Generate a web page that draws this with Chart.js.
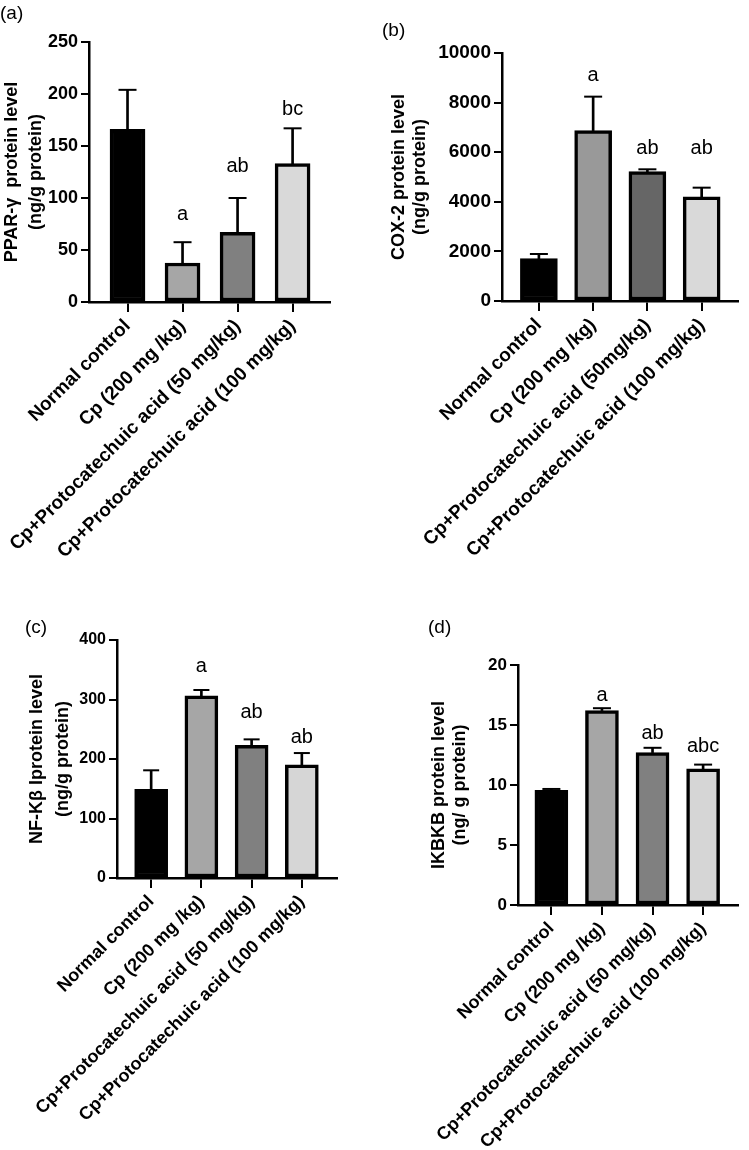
<!DOCTYPE html>
<html>
<head>
<meta charset="utf-8">
<script src="https://cdn.jsdelivr.net/npm/chart.js@4.4.1/dist/chart.umd.min.js"></script>
<style>
  body { margin: 0; background: #fff; }
  #wrap { position: relative; width: 749px; height: 1150px; overflow: hidden; }
  canvas { position: absolute; }
  .tag { position: absolute; font: 19px 'Liberation Sans', Arial, sans-serif; color: #000; line-height: 22px; }
</style>
</head>
<body>
<div id="wrap">
  <canvas id="chartA" width="375" height="575" style="left:0;top:0"></canvas>
  <canvas id="chartB" width="374" height="575" style="left:375px;top:0"></canvas>
  <canvas id="chartC" width="375" height="575" style="left:0;top:575px"></canvas>
  <canvas id="chartD" width="374" height="575" style="left:375px;top:575px"></canvas>
  <div class="tag" style="left:0;top:2px">(a)</div>
  <div class="tag" style="left:382px;top:19px">(b)</div>
  <div class="tag" style="left:25px;top:616px">(c)</div>
  <div class="tag" style="left:428px;top:616px">(d)</div>
</div>
<script>
Chart.defaults.font.family = "'Liberation Sans', Arial, sans-serif";
Chart.defaults.color = '#000';

// grupos
const groups = ['Normal control', 'Cp (200 mg /kg)', 'Cp+Protocatechuic acid (50 mg/kg)', 'Cp+Protocatechuic acid (100 mg/kg)'];
const groupsB = ['Normal control', 'Cp (200 mg /kg)', 'Cp+Protocatechuic acid (50mg/kg)', 'Cp+Protocatechuic acid (100 mg/kg)'];

/* (a) PPAR-gamma */
const ppargMean = [166, 37.5, 67, 133];
const ppargSd = [38, 20, 33, 34];
const ppargLetters = ['', 'a', 'ab', 'bc'];
const ppargLetterAt = [0, 84, 130, 185];
const ppargTicks = [0, 50, 100, 150, 200, 250];

/* (b) COX-2 */
const cox2Mean = [1706, 6870, 5215, 4205];
const cox2Sd = [190, 1370, 95, 365];
const cox2Letters = ['', 'a', 'ab', 'ab'];
const cox2LetterAt = [0, 9110, 6130, 6130];
const cox2Ticks = [0, 2000, 4000, 6000, 8000, 10000];

/* (c) NF-kB */
const nfkbMean = [149, 306, 223, 190];
const nfkbSd = [32, 10, 10, 20];
const nfkbLetters = ['', 'a', 'ab', 'ab'];
const nfkbLetterAt = [0, 355, 278, 237];
const nfkbTicks = [0, 100, 200, 300, 400];

/* (d) IKBKB */
const ikbkbMean = [9.55, 16.2, 12.7, 11.35];
const ikbkbSd = [0.12, 0.2, 0.4, 0.35];
const ikbkbLetters = ['', 'a', 'ab', 'abc'];
const ikbkbLetterAt = [0, 17.5, 14.3, 13.2];
const ikbkbTicks = [0, 5, 10, 15, 20];

function drawPanel(id, o) {
    var cv = document.getElementById(id);
    // letras de significancia sobre cada barra
    var letterPlugin = {
        id: 'letters',
        afterDatasetsDraw: function (chart) {
            var ctx = chart.ctx, xs = chart.scales.x, ys = chart.scales.y;
            ctx.save();
            ctx.font = "20px 'Liberation Sans', Arial, sans-serif";
            ctx.fillStyle = '#000';
            ctx.textAlign = 'center';
            ctx.textBaseline = 'middle';
            o.letters.forEach(function (t, i) {
                if (t) ctx.fillText(t, xs.getPixelForValue(i), ys.getPixelForValue(o.letterAt[i]));
            });
            ctx.restore();
        }
    };
    new Chart(cv.getContext('2d'), {
        type: 'bar',
        data: {
            datasets: [
                {
                    data: o.mean.map(function (v, i) { return { x: i, y: v }; }),
                    backgroundColor: o.colors,
                    borderColor: '#000',
                    borderWidth: 3.5,
                    borderSkipped: false,
                    barThickness: o.barW,
                    grouped: false,
                    order: 0
                },
                {
                    // barra de error (solo hacia arriba)
                    data: o.mean.map(function (v, i) { return { x: i, y: [v, v + o.sd[i]] }; }),
                    backgroundColor: '#000',
                    borderWidth: 0,
                    barThickness: 2,
                    grouped: false,
                    order: 1
                },
                {
                    type: 'line',
                    data: o.mean.map(function (v, i) { return { x: i, y: v + o.sd[i] }; }),
                    showLine: false,
                    pointStyle: 'line',
                    pointRadius: o.capR,
                    pointHoverRadius: o.capR,
                    pointBorderColor: '#000',
                    pointBorderWidth: 2,
                    order: 2
                }
            ]
        },
        options: {
            responsive: false,
            animation: false,
            layout: { padding: { left: 0, top: o.area.top, right: cv.width - o.area.right, bottom: 0 } },
            plugins: { legend: { display: false }, tooltip: { enabled: false } },
            scales: {
                x: {
                    type: 'linear',
                    offset: false,
                    min: o.xMin,
                    max: o.xMax,
                    afterBuildTicks: function (s) { s.ticks = o.groups.map(function (_, i) { return { value: i }; }); },
                    afterFit: function (s) { s.height = cv.height - o.area.bottom; },
                    border: { display: true, color: '#000', width: 2.5 },
                    grid: { offset: false, drawOnChartArea: false, drawTicks: true, tickLength: 10, color: '#000', lineWidth: 2 },
                    ticks: {
                        autoSkip: false,
                        minRotation: 45,
                        maxRotation: 45,
                        padding: 3,
                        color: '#000',
                        font: { size: o.xFont, weight: 'bold' },
                        callback: function (v) { return o.groups[v]; }
                    }
                },
                y: {
                    min: 0,
                    max: o.ticks[o.ticks.length - 1],
                    afterBuildTicks: function (s) { s.ticks = o.ticks.map(function (v) { return { value: v }; }); },
                    afterFit: function (s) { s.width = o.area.left; },
                    border: { display: true, color: '#000', width: 2.5 },
                    grid: { drawOnChartArea: false, drawTicks: true, tickLength: 8, color: '#000', lineWidth: 2 },
                    ticks: {
                        padding: 3,
                        color: '#000',
                        font: { size: o.yFont, weight: 'bold' },
                        callback: function (v) { return String(v); }
                    },
                    title: {
                        display: true,
                        text: o.title,
                        color: '#000',
                        font: { size: 18, weight: 'bold', lineHeight: o.titleLH },
                        padding: { top: o.titlePad, bottom: 0 }
                    }
                }
            }
        },
        plugins: [letterPlugin]
    });
}

drawPanel('chartA', {
    groups: groups, mean: ppargMean, sd: ppargSd, letters: ppargLetters, letterAt: ppargLetterAt, ticks: ppargTicks,
    title: ['PPAR-\u03b3  protein level', '(ng/g protein)'],
    colors: ['#000000', '#a6a6a6', '#808080', '#d9d9d9'],
    area: { left: 89, right: 330, top: 42, bottom: 302 },
    xMin: -0.7, xMax: 3.68, barW: 35, capR: 9, xFont: 19, yFont: 18, titlePad: 1, titleLH: 1.28
});

drawPanel('chartB', {
    groups: groupsB, mean: cox2Mean, sd: cox2Sd, letters: cox2Letters, letterAt: cox2LetterAt, ticks: cox2Ticks,
    title: ['COX-2 protein level', '(ng/g protein)'],
    colors: ['#000000', '#999999', '#666666', '#d9d9d9'],
    area: { left: 127, right: 373, top: 53, bottom: 301 },
    xMin: -0.68, xMax: 3.67, barW: 37, capR: 9, xFont: 19, yFont: 19, titlePad: 14, titleLH: 1.15
});

drawPanel('chartC', {
    groups: groups, mean: nfkbMean, sd: nfkbSd, letters: nfkbLetters, letterAt: nfkbLetterAt, ticks: nfkbTicks,
    title: ['NF-K\u03b2 Iprotein level', '(ng/g protein)'],
    colors: ['#000000', '#a6a6a6', '#808080', '#d6d6d6'],
    area: { left: 117, right: 337, top: 65, bottom: 303 },
    xMin: -0.68, xMax: 3.7, barW: 33, capR: 8, xFont: 18, yFont: 16, titlePad: 24, titleLH: 1.45
});

drawPanel('chartD', {
    groups: groups, mean: ikbkbMean, sd: ikbkbSd, letters: ikbkbLetters, letterAt: ikbkbLetterAt, ticks: ikbkbTicks,
    title: ['IKBKB protein level', '(ng/ g protein)'],
    colors: ['#000000', '#a6a6a6', '#808080', '#d6d6d6'],
    area: { left: 143, right: 363, top: 90, bottom: 330 },
    xMin: -0.66, xMax: 3.69, barW: 33, capR: 9, xFont: 18, yFont: 17, titlePad: 54, titleLH: 1.15
});
</script>
</body>
</html>
